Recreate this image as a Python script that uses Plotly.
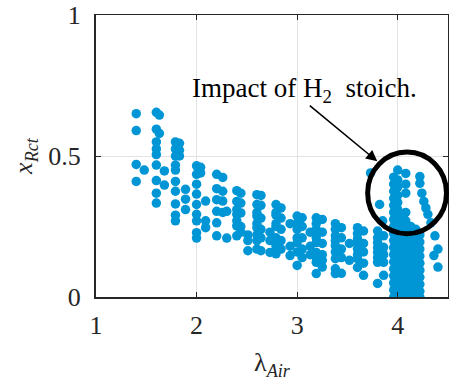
import plotly.graph_objects as go

# Reactant fraction x_Rct against air stoichiometry lambda_Air.
# Each entry: one lambda_Air level and the x_Rct values measured at it.
lambda_levels = [
    1.40, 1.48, 1.60, 1.63, 1.68, 1.79, 1.83, 1.89, 2.00, 2.04, 2.09,
    2.20, 2.26, 2.30, 2.40, 2.44, 2.51, 2.60, 2.64, 2.73, 2.79, 2.84,
    2.93, 3.00, 3.05, 3.13, 3.19, 3.25, 3.38, 3.44, 3.52, 3.60, 3.66,
    3.73, 3.80, 3.82, 3.85, 3.86,
    3.96, 4.00, 4.05, 4.08, 4.13, 4.18, 4.22,
    4.24, 4.26, 4.28, 4.30, 4.33, 4.36, 4.37, 4.40,
]
x_rct_values = [
    [0.65, 0.59, 0.47, 0.41],
    [0.45],
    [0.655, 0.595, 0.55, 0.525, 0.505, 0.468, 0.413, 0.368, 0.333],
    [0.645, 0.58],
    [0.447, 0.397],
    [0.55, 0.525, 0.50, 0.468, 0.45, 0.41, 0.375, 0.33, 0.29, 0.27],
    [0.545, 0.52, 0.50],
    [0.382, 0.347, 0.31],
    [0.465, 0.435, 0.40, 0.365, 0.328, 0.293, 0.27, 0.228, 0.209],
    [0.46, 0.44],
    [0.34, 0.27, 0.246],
    [0.435, 0.384, 0.345, 0.304, 0.263, 0.217],
    [0.424, 0.375, 0.34, 0.30],
    [0.304, 0.209],
    [0.377, 0.339, 0.31, 0.293, 0.27, 0.252, 0.217],
    [0.368, 0.333, 0.298, 0.25, 0.23],
    [0.22, 0.20, 0.164],
    [0.363, 0.328, 0.30, 0.287, 0.26, 0.246, 0.22, 0.20, 0.17],
    [0.36, 0.325, 0.28, 0.24, 0.21, 0.164],
    [0.23, 0.20, 0.158],
    [0.328, 0.30, 0.29, 0.26, 0.25, 0.21, 0.18, 0.153],
    [0.316, 0.28, 0.24, 0.20, 0.17],
    [0.26, 0.18, 0.147],
    [0.287, 0.26, 0.24, 0.21, 0.193, 0.16, 0.112],
    [0.281, 0.25, 0.21, 0.17, 0.14],
    [0.23, 0.18, 0.15],
    [0.281, 0.26, 0.24, 0.21, 0.193, 0.158, 0.14, 0.123, 0.083],
    [0.275, 0.23, 0.19, 0.15, 0.13, 0.106],
    [0.26, 0.24, 0.217, 0.20, 0.182, 0.16, 0.136, 0.10, 0.083],
    [0.246, 0.21, 0.17, 0.14, 0.084],
    [0.19, 0.13],
    [0.246, 0.225, 0.206, 0.19, 0.171, 0.15, 0.136, 0.105],
    [0.234, 0.19, 0.16, 0.12, 0.077],
    [0.44],
    [0.234, 0.21, 0.193, 0.175, 0.158, 0.14, 0.123, 0.048],
    [0.328],
    [0.27],
    [0.217, 0.176, 0.15, 0.123, 0.077],
    [0.425, 0.40, 0.375, 0.35, 0.325, 0.30, 0.275, 0.25, 0.225, 0.20,
     0.175, 0.15, 0.125, 0.10, 0.075, 0.05, 0.025, 0.0],
    [0.45, 0.415, 0.39, 0.36, 0.335, 0.31, 0.285, 0.26, 0.235, 0.21,
     0.185, 0.16, 0.135, 0.11, 0.085, 0.06, 0.035, 0.01],
    [0.28, 0.255, 0.23, 0.205, 0.18, 0.155, 0.13, 0.105, 0.08, 0.055,
     0.03, 0.005],
    [0.438, 0.40, 0.368, 0.30, 0.27, 0.24, 0.21, 0.18, 0.15, 0.12, 0.09,
     0.06, 0.03, 0.0],
    [0.25, 0.225, 0.20, 0.175, 0.15, 0.125, 0.10, 0.075, 0.05, 0.025, 0.0],
    [0.24, 0.215, 0.19, 0.165, 0.14, 0.115, 0.09, 0.065, 0.04, 0.015],
    [0.427, 0.403, 0.22, 0.195, 0.17, 0.145, 0.12, 0.095, 0.07, 0.045,
     0.02, 0.0],
    [0.368],
    [0.339],
    [0.316],
    [0.293],
    [0.263],
    [0.147],
    [0.217],
    [0.17, 0.106],
]

x_ticks = [1, 2, 3, 4]
y_ticks = [0, 0.5, 1]
y_tick_labels = ["0", "0.5", "1"]

lam, xr = [], []
for level, values in zip(lambda_levels, x_rct_values):
    for v in values:
        lam.append(level)
        xr.append(v)

FONT = "Times New Roman, Liberation Serif, DejaVu Serif, serif"
INK = "#262626"
BLUE = "rgb(0,150,214)"
TICKFONT = dict(family=FONT, size=26, color=INK)

fig = go.Figure()
fig.add_trace(go.Scatter(
    x=lam, y=xr, mode="markers",
    marker=dict(size=9.5, color=BLUE, line=dict(width=0)),
    showlegend=False, hoverinfo="skip",
))
# empty trace so the mirrored top/right frame axes render
fig.add_trace(go.Scatter(x=[None], y=[None], xaxis="x2", yaxis="y2",
                         showlegend=False, hoverinfo="skip"))

axis_common = dict(ticks="inside", ticklen=5, tickcolor=INK, tickwidth=1,
                   zeroline=False, tickfont=TICKFONT)
fig.update_layout(
    width=449, height=389,
    margin=dict(l=96, r=1, t=11, b=92),
    paper_bgcolor="white", plot_bgcolor="white",
    font=dict(family=FONT, size=26, color=INK),
    xaxis=dict(range=[1, 4.5], tickvals=x_ticks, showgrid=True,
               gridcolor="#E3E3E3", gridwidth=1, showline=True,
               linecolor=INK, linewidth=2, ticklabelstandoff=4,
               ticklabeloverflow="allow",
               title=dict(text="λ<sub><i>Air</i></sub>", standoff=14,
                          font=dict(family=FONT, size=26, color=INK)),
               **axis_common),
    yaxis=dict(range=[0, 1], tickvals=y_ticks, ticktext=y_tick_labels,
               showgrid=True, gridcolor="#E3E3E3", gridwidth=1,
               showline=True, linecolor=INK, linewidth=2,
               ticklabelstandoff=8, ticklabeloverflow="allow",
               title=dict(text="<i>x</i><sub><i>Rct</i></sub>", standoff=8,
                          font=dict(family=FONT, size=26, color=INK)),
               **axis_common),
    xaxis2=dict(range=[1, 4.5], tickvals=x_ticks, overlaying="x",
                side="top", anchor="y", showticklabels=False,
                showgrid=False, showline=True, linecolor=INK, linewidth=1,
                **axis_common),
    yaxis2=dict(range=[0, 1], tickvals=y_ticks, overlaying="y",
                side="right", anchor="x", showticklabels=False,
                showgrid=False, showline=True, linecolor=INK, linewidth=1,
                **axis_common),
)

# callout: label with arrow pointing at the highlighted cluster
fig.add_annotation(x=3.07, y=0.735, xref="x", yref="y",
                   text="Impact of H<sub>2</sub>  stoich.", showarrow=False,
                   xanchor="center", yanchor="middle",
                   font=dict(family=FONT, size=27, color="black"))
fig.add_annotation(x=3.797, y=0.481, ax=3.111, ay=0.683,
                   xref="x", yref="y", axref="x", ayref="y",
                   text="", showarrow=True, arrowhead=2, arrowsize=1.4,
                   arrowwidth=1.6, arrowcolor="black", standoff=0)

# ring around the cluster near lambda_Air = 4
cx, cy, rx, ry = 4.093, 0.369, 0.392, 0.145
def to_paper_x(v):
    return (v - 1) / 3.5
fig.add_shape(type="circle", xref="paper", yref="paper",
              x0=to_paper_x(cx - rx), x1=to_paper_x(cx + rx),
              y0=cy - ry, y1=cy + ry,
              line=dict(color="black", width=5), fillcolor="rgba(0,0,0,0)",
              layer="above")

fig.write_html("out.html")
